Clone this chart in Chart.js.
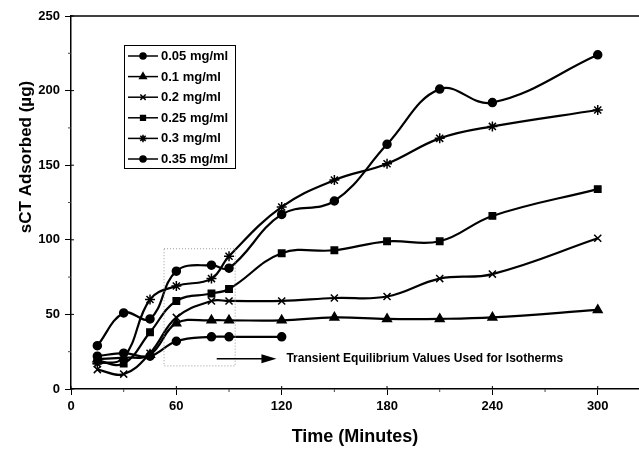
<!DOCTYPE html>
<html>
<head>
<meta charset="utf-8">
<script src="https://cdn.jsdelivr.net/npm/chart.js@4.4.1/dist/chart.umd.min.js"></script>
<style>
  html, body { margin: 0; padding: 0; background: #fff; }
</style>
</head>
<body>
<canvas id="chart" width="639" height="449"></canvas>
<script>
// sampling times (minutes)
const times = [15, 30, 45, 60, 80, 90, 120, 150, 180, 210, 240, 300];
const seriesLabels = ["0.05 mg/ml", "0.1 mg/ml", "0.2 mg/ml", "0.25 mg/ml", "0.3 mg/ml", "0.35 mg/ml"];
// sCT adsorbed (ug)
const conc005 = [22, 24, 22, 32, 35, 35, 35];
const conc01 = [20, 21, 23, 44, 46, 46, 46, 48, 47, 47, 48, 53];
const conc02 = [13, 10, 24, 48, 59, 59, 59, 61, 62, 74, 77, 101];
const conc025 = [19, 17, 38, 59, 64, 67, 91, 93, 99, 99, 116, 134];
const conc03 = [17, 21, 60, 69, 74, 89, 122, 140, 151, 168, 176, 187];
const conc035 = [29, 51, 47, 79, 83, 81, 117, 126, 164, 201, 192, 224];
const yTicks = [0, 50, 100, 150, 200, 250];
const xTicks = [0, 60, 120, 180, 240, 300];
// the boxed region and its note
const boxRange = { x: [53, 93.5], y: [15.5, 94] };
const arrowSpan = { x: [83, 117], y: 20.3 };
const noteText = "Transient Equilibrium Values Used for Isotherms";

const allSeries = [conc005, conc01, conc02, conc025, conc03, conc035];
const markers = ["circle", "triangle", "crossRot", "rect", "star", "circle"];
const markerSize = [4, 5, 5, 4.5, 5, 4];

const FONT = "'Liberation Sans', Arial, sans-serif";

const extras = {
  id: "extras",
  afterDraw(chart) {
    const { ctx, chartArea: a, scales: { x, y } } = chart;
    ctx.save();
    // top frame line
    ctx.strokeStyle = "#000";
    ctx.lineWidth = 1.5;
    ctx.beginPath();
    ctx.moveTo(a.left, a.top);
    ctx.lineTo(a.right, a.top);
    ctx.stroke();

    // minor ticks + inner half of major ticks
    ctx.lineWidth = 1;
    ctx.strokeStyle = "#444";
    for (let v = 30; v < 320; v += 60) {
      const px = x.getPixelForValue(v);
      ctx.beginPath(); ctx.moveTo(px, a.bottom); ctx.lineTo(px, a.bottom + 3); ctx.stroke();
    }
    for (let v = 25; v < 250; v += 50) {
      const py = y.getPixelForValue(v);
      ctx.beginPath(); ctx.moveTo(a.left - 3, py); ctx.lineTo(a.left, py); ctx.stroke();
    }
    ctx.strokeStyle = "#000";
    xTicks.forEach((v) => {
      const px = x.getPixelForValue(v);
      ctx.beginPath(); ctx.moveTo(px, a.bottom - 3); ctx.lineTo(px, a.bottom); ctx.stroke();
    });
    yTicks.forEach((v) => {
      const py = y.getPixelForValue(v);
      ctx.beginPath(); ctx.moveTo(a.left, py); ctx.lineTo(a.left + 3, py); ctx.stroke();
    });

    // dotted box
    ctx.strokeStyle = "#9a9a9a";
    ctx.lineWidth = 1;
    ctx.setLineDash([1, 2]);
    const bx0 = x.getPixelForValue(boxRange.x[0]), bx1 = x.getPixelForValue(boxRange.x[1]);
    const by0 = y.getPixelForValue(boxRange.y[1]), by1 = y.getPixelForValue(boxRange.y[0]);
    ctx.strokeRect(bx0, by0, bx1 - bx0, by1 - by0);
    ctx.setLineDash([]);

    // arrow
    const ax0 = x.getPixelForValue(arrowSpan.x[0]), ax1 = x.getPixelForValue(arrowSpan.x[1]);
    const ay = y.getPixelForValue(arrowSpan.y);
    ctx.strokeStyle = "#000";
    ctx.fillStyle = "#000";
    ctx.lineWidth = 1.5;
    ctx.beginPath(); ctx.moveTo(ax0, ay); ctx.lineTo(ax1 - 12, ay); ctx.stroke();
    ctx.beginPath(); ctx.moveTo(ax1, ay); ctx.lineTo(ax1 - 15, ay - 4.5); ctx.lineTo(ax1 - 15, ay + 4.5); ctx.closePath(); ctx.fill();
    ctx.font = "bold 12px " + FONT;
    ctx.textBaseline = "middle";
    ctx.textAlign = "left";
    ctx.fillText(noteText, ax1 + 10, ay);

    // y title
    ctx.save();
    ctx.translate(26, 157);
    ctx.rotate(-Math.PI / 2);
    ctx.font = "bold 17px " + FONT;
    ctx.textAlign = "center";
    ctx.textBaseline = "middle";
    ctx.fillText("sCT Adsorbed (\u00b5g)", 0, 0);
    ctx.restore();

    // legend
    const lx = 124, ly = 45, lw = 111, lh = 123;
    ctx.fillStyle = "#fff";
    ctx.fillRect(lx, ly, lw, lh);
    ctx.strokeStyle = "#000";
    ctx.lineWidth = 1;
    ctx.strokeRect(lx + 0.5, ly + 0.5, lw, lh);
    ctx.font = "bold 13px " + FONT;
    ctx.textBaseline = "middle";
    chart.data.datasets.forEach((ds, i) => {
      const ry = ly + 11 + i * 20.6;
      ctx.strokeStyle = "#000";
      ctx.lineWidth = 1.5;
      ctx.beginPath(); ctx.moveTo(lx + 4, ry); ctx.lineTo(lx + 34, ry); ctx.stroke();
      ctx.fillStyle = "#000";
      Chart.helpers.drawPoint(ctx, { pointStyle: ds.pointStyle, radius: ds.pointRadius * 0.75, rotation: 0, borderWidth: 1.5 }, lx + 19, ry);
      ctx.fillStyle = "#000";
      ctx.fillText(ds.label, lx + 37, ry + 0.5);
    });
    ctx.restore();
  }
};

new Chart(document.getElementById("chart"), {
  type: "line",
  data: {
    datasets: allSeries.map((vals, i) => ({
      label: seriesLabels[i],
      data: vals.map((v, j) => ({ x: times[j], y: v })),
      borderColor: "#000", backgroundColor: "#000", borderWidth: 2.2,
      pointStyle: markers[i], pointRadius: markerSize[i], pointBorderWidth: 1.5,
      pointBackgroundColor: "#000", pointBorderColor: "#000",
      tension: 0.4, fill: false,
    })),
  },
  options: {
    responsive: false, animation: false, devicePixelRatio: 1,
    layout: { autoPadding: false, padding: { top: 16, right: 0, left: 0, bottom: 0 } },
    plugins: { legend: { display: false }, tooltip: { enabled: false } },
    scales: {
      x: {
        type: "linear", min: 0, max: 323.5,
        afterFit: (s) => { s.height = 60; s.paddingRight = 0; s.paddingLeft = 0; },
        afterBuildTicks: (s) => { s.ticks = xTicks.map((v) => ({ value: v })); },
        ticks: { color: "#000", font: { family: FONT, weight: "bold", size: 13 }, padding: 4, includeBounds: false, maxRotation: 0 },
        grid: { drawOnChartArea: false, tickLength: 6, color: "#000" },
        border: { color: "#000", width: 1.5 },
        title: { display: true, text: "Time (Minutes)", color: "#000", font: { family: FONT, weight: "bold", size: 18 }, padding: { top: 0, bottom: 1 } },
      },
      y: {
        min: 0, max: 250,
        afterFit: (s) => { s.width = 71; s.paddingTop = 0; s.paddingBottom = 0; },
        afterBuildTicks: (s) => { s.ticks = yTicks.map((v) => ({ value: v })); },
        ticks: { color: "#000", font: { family: FONT, weight: "bold", size: 13 }, padding: 5 },
        grid: { drawOnChartArea: false, tickLength: 6, color: "#000" },
        border: { color: "#000", width: 1.5 },
      },
    },
  },
  plugins: [extras],
});
</script>
</body>
</html>
